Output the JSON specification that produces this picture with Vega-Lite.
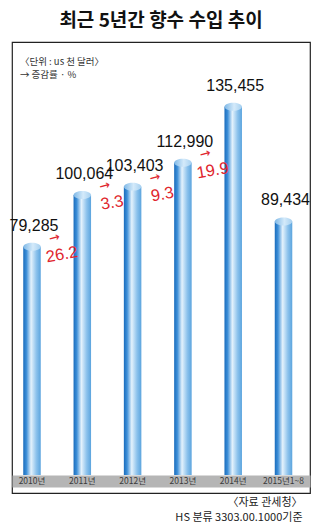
{
  "$schema": "https://vega.github.io/schema/vega-lite/v6.json",
  "autosize": "none",
  "width": 298,
  "height": 451,
  "padding": {"left": 12, "top": 42, "right": 9, "bottom": 38},
  "background": "white",
  "config": {
    "view": {"stroke": "#222222", "strokeWidth": 1.2},
    "font": "Noto Sans CJK KR"
  },
  "title": {
    "text": "최근 5년간 향수 수입 추이",
    "font": "Noto Sans CJK KR",
    "fontWeight": "bold",
    "fontSize": 19,
    "color": "#111111",
    "anchor": "middle",
    "offset": 11
  },
  "data": {
    "values": [
      {"year": "2010년", "value": 79285, "growthToNext": 26.2},
      {"year": "2011년", "value": 100064, "growthToNext": 3.3},
      {"year": "2012년", "value": 103403, "growthToNext": 9.3},
      {"year": "2013년", "value": 112990, "growthToNext": 19.9},
      {"year": "2014년", "value": 135455, "growthToNext": null},
      {"year": "2015년1~8", "value": 89434, "growthToNext": null}
    ]
  },
  "layer": [
    {
      "mark": {
        "type": "bar",
        "color": {
          "gradient": "linear",
          "x1": 0, "x2": 1, "y1": 0, "y2": 0,
          "stops": [
            {"offset": 0, "color": "#1a6cbc"},
            {"offset": 0.18, "color": "#3d8fd8"},
            {"offset": 0.45, "color": "#e4f2fc"},
            {"offset": 0.75, "color": "#8cc2ec"},
            {"offset": 1, "color": "#5ba4de"}
          ]
        }
      },
      "encoding": {
        "x": {
          "field": "year",
          "type": "nominal",
          "sort": null,
          "scale": {"paddingInner": 0.652, "paddingOuter": 0.288, "align": 0.388},
          "axis": {
            "title": null,
            "orient": "bottom",
            "offset": -12,
            "domain": true,
            "domainColor": "#b5b5b5",
            "domainWidth": 12,
            "ticks": false,
            "tickSize": 0,
            "labels": false,
            "grid": false
          }
        },
        "y": {
          "field": "value",
          "type": "quantitative",
          "scale": {"domain": [-19540, 161440], "zero": false, "nice": false},
          "axis": null
        },
        "y2": {"datum": -12320}
      }
    },
    {
      "mark": {
        "type": "point",
        "shape": "M -1 0 C -1 -0.252 -0.552 -0.457 0 -0.457 C 0.552 -0.457 1 -0.252 1 0 C 1 0.252 0.552 0.457 0 0.457 C -0.552 0.457 -1 0.252 -1 0 Z",
        "size": 306,
        "filled": true,
        "opacity": 1,
        "strokeWidth": 0,
        "fill": {
          "gradient": "linear",
          "x1": 0, "x2": 1, "y1": 0, "y2": 0,
          "stops": [
            {"offset": 0, "color": "#7fb8e6"},
            {"offset": 0.55, "color": "#d4eafa"},
            {"offset": 1, "color": "#a6d0f0"}
          ]
        }
      },
      "encoding": {
        "x": {"field": "year", "type": "nominal", "sort": null},
        "y": {"field": "value", "type": "quantitative"}
      }
    },
    {
      "mark": {
        "type": "text",
        "font": "Liberation Sans",
        "fontSize": 16,
        "color": "#111111",
        "baseline": "alphabetic",
        "dy": -16,
        "dx": 2
      },
      "encoding": {
        "x": {"field": "year", "type": "nominal", "sort": null},
        "y": {"field": "value", "type": "quantitative"},
        "text": {"field": "value", "type": "quantitative", "format": ",d"}
      }
    },
    {
      "transform": [{"filter": "datum.growthToNext != null"}],
      "mark": {
        "type": "text",
        "font": "Liberation Sans",
        "fontSize": 16.5,
        "color": "#e0262e",
        "baseline": "middle",
        "align": "center",
        "angle": -10,
        "dx": 28,
        "dy": 13
      },
      "encoding": {
        "x": {"field": "year", "type": "nominal", "sort": null},
        "y": {"field": "value", "type": "quantitative"},
        "text": {"field": "growthToNext", "type": "quantitative", "format": ".1f"}
      }
    },
    {
      "transform": [{"filter": "datum.growthToNext != null"}],
      "mark": {
        "type": "text",
        "text": "→",
        "font": "DejaVu Sans",
        "fontSize": 13,
        "color": "#e0262e",
        "baseline": "middle",
        "align": "center",
        "angle": -15,
        "dx": 24,
        "dy": -3
      },
      "encoding": {
        "x": {"field": "year", "type": "nominal", "sort": null},
        "y": {"field": "value", "type": "quantitative"}
      }
    },
    {
      "mark": {
        "type": "text",
        "font": "Noto Sans CJK KR",
        "fontSize": 8.5,
        "color": "#3a3a3a",
        "baseline": "middle",
        "align": "center"
      },
      "encoding": {
        "x": {"field": "year", "type": "nominal", "sort": null},
        "y": {"datum": -14730, "type": "quantitative"},
        "text": {"field": "year", "type": "nominal"}
      }
    },
    {
      "data": {"values": [
        {"year": "2010년", "note": "〈단위 : us 천 달러〉", "pos": 153612},
        {"year": "2010년", "note": "→ 증감률 · %", "pos": 148194}
      ]},
      "mark": {
        "type": "text",
        "font": "Noto Sans CJK KR",
        "fontSize": 9.5,
        "color": "#333333",
        "baseline": "middle",
        "align": "left",
        "dx": -12
      },
      "encoding": {
        "x": {"field": "year", "type": "nominal", "sort": null},
        "y": {"field": "pos", "type": "quantitative"},
        "text": {"field": "note", "type": "nominal"}
      }
    },
    {
      "data": {"values": [
        {"year": "2015년1~8", "note": "〈자료 관세청〉", "pos": -23555},
        {"year": "2015년1~8", "note": "HS 분류 3303.00.1000기준", "pos": -29575}
      ]},
      "mark": {
        "type": "text",
        "font": "Noto Sans CJK KR",
        "fontSize": 11,
        "color": "#222222",
        "baseline": "middle",
        "align": "right",
        "dx": 19
      },
      "encoding": {
        "x": {"field": "year", "type": "nominal", "sort": null},
        "y": {"field": "pos", "type": "quantitative"},
        "text": {"field": "note", "type": "nominal"}
      }
    }
  ]
}
